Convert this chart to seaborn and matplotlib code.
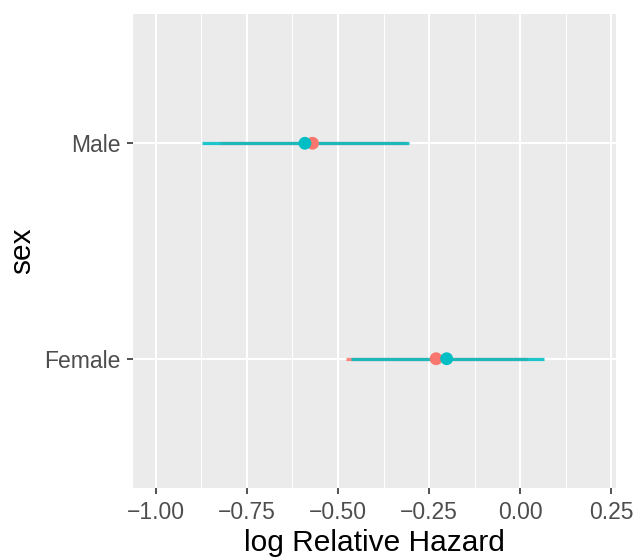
import matplotlib
matplotlib.use("Agg")
import matplotlib.pyplot as plt
import seaborn as sns
import pandas as pd
import numpy as np

# Estimates of log relative hazard by sex, two models
sex_levels = ["Female", "Male"]
model = ["a", "a", "b", "b"]
sex = ["Male", "Female", "Male", "Female"]
estimate = [-0.570, -0.231, -0.591, -0.202]
lower = [-0.825, -0.479, -0.874, -0.465]
upper = [-0.312, 0.020, -0.306, 0.064]
x_ticks = [-1.00, -0.75, -0.50, -0.25, 0.00, 0.25]
palette = {"a": "#F8766D", "b": "#00BFC4"}

df = pd.DataFrame({"model": model, "sex": sex, "estimate": estimate,
                   "lower": lower, "upper": upper})
df["ypos"] = df["sex"].map({s: i for i, s in enumerate(sex_levels)})

sns.set_style("darkgrid", {"axes.facecolor": "#EBEBEB", "grid.color": "white"})
plt.rcParams["font.family"] = ["Liberation Sans", "DejaVu Sans"]

fig = plt.figure(figsize=(6.38, 5.59), dpi=100)
ax = fig.add_axes([0.2085, 0.127, 0.757, 0.848])

for m in ["a", "b"]:
    sub = df[df["model"] == m]
    ax.hlines(sub["ypos"], sub["lower"], sub["upper"], color=palette[m],
              linewidth=2.3, alpha=0.88, zorder=3)

sns.scatterplot(data=df, x="estimate", y="ypos", hue="model", palette=palette,
                s=85, linewidth=0, legend=False, ax=ax, zorder=4)

ax.set_xlim(-1.0625, 0.2625)
ax.set_ylim(-0.6, 1.6)
ax.set_xticks(x_ticks)
ax.set_xticklabels(["\u22121.00", "\u22120.75", "\u22120.50", "\u22120.25", "0.00", "0.25"])
ax.set_xticks([v + 0.125 for v in x_ticks[:-1]], minor=True)
ax.set_yticks(range(len(sex_levels)))
ax.set_yticklabels(sex_levels)

ax.grid(which="major", color="white", linewidth=1.5)
ax.grid(which="minor", axis="x", color="white", linewidth=0.75)
for s in ax.spines.values():
    s.set_visible(False)

ax.tick_params(axis="both", which="major", length=4, width=1.2, color="#333333",
               labelsize=16.5, labelcolor="#4D4D4D", pad=5, left=True, bottom=True)
ax.tick_params(axis="x", which="minor", length=0)
ax.set_xlabel("log Relative Hazard", fontsize=21.5, color="black", labelpad=4)
ax.set_ylabel("sex", fontsize=21.5, color="black", labelpad=6)

fig.savefig("out.png", dpi=100)
